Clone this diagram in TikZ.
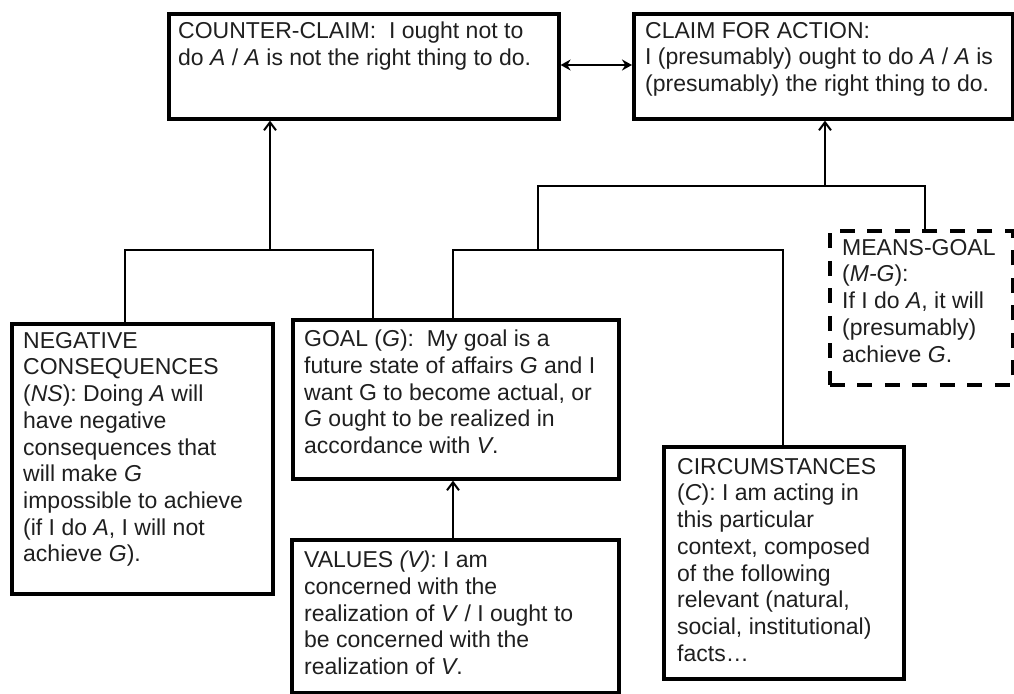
\documentclass[tikz,border=0pt]{standalone}
\usepackage{fontspec}
\setmainfont{Liberation Sans}
\usepackage{tikz}
\usetikzlibrary{arrows.meta}

\newcommand{\argfont}{\fontsize{23}{26.7}\selectfont}

\tikzset{
	argbox/.style={draw, line width=3.6pt, anchor=north west, inner sep=0pt},
	meansbox/.style={argbox, line width=3.6pt, dash pattern=on 15pt off 12.5pt},
	argtext/.style={anchor=north west, inner sep=0pt, align=left, font=\argfont, text=black!88},
	link/.style={line width=2.3pt},
	up/.style={link, -{Straight Barb[length=8pt,width=12pt,line width=2pt]}},
	both/.style={link, {Stealth[length=10pt,width=11pt]}-{Stealth[length=10pt,width=11pt]}}
}

\begin{document}
\begin{tikzpicture}[x=1pt,y=-1pt]
				\useasboundingbox (0,0) rectangle (1014,693);
				%boxes placed by hand, text set top left in each
				\node[argbox, minimum width=390pt, minimum height=105pt] (cc) at (167,12) {};
				\node[argtext] (cctext) at (178,22) {COUNTER-CLAIM:\ \ I ought not to\\do \textit{A} / \textit{A} is not the right thing to do.};

				\node[argbox, minimum width=379pt, minimum height=105pt] (ca) at (632,12) {};
				\node[argtext] (catext) at (645,22) {CLAIM FOR ACTION:\\I (presumably) ought to do \textit{A} / \textit{A} is\\(presumably) the right thing to do.};

				\node[argbox, minimum width=261pt, minimum height=270pt] (nc) at (10,322) {};
				\node[argtext] (nctext) at (23,332) {NEGATIVE\\CONSEQUENCES\\(\textit{NS}): Doing \textit{A} will\\have negative\\consequences that\\will make \textit{G}\\impossible to achieve\\(if I do \textit{A}, I will not\\achieve \textit{G}).};

				\node[argbox, minimum width=326pt, minimum height=159pt] (goal) at (291,318) {};
				\node[argtext] (goaltext) at (304,330) {GOAL (\textit{G}):\ \ My goal is a\\future state of affairs \textit{G} and I\\want G to become actual, or\\\textit{G} ought to be realized in\\accordance with \textit{V}.};

				\node[argbox, minimum width=327pt, minimum height=153pt] (values) at (290,538) {};
				\node[argtext] (valuestext) at (304,551) {VALUES \textit{(V)}: I am\\concerned with the\\realization of \textit{V} / I ought to\\be concerned with the\\realization of \textit{V}.};

				\node[argbox, minimum width=240pt, minimum height=232pt] (circ) at (662,445) {};
				\node[argtext] (circtext) at (677,458) {CIRCUMSTANCES\\(\textit{C}): I am acting in\\this particular\\context, composed\\of the following\\relevant (natural,\\social, institutional)\\facts…};

				\node[meansbox, minimum width=183pt, minimum height=154pt] (mg) at (828,229) {};
				\node[argtext] (mgtext) at (842,239) {MEANS-GOAL\\(\textit{M-G}):\\If I do \textit{A}, it will\\(presumably)\\achieve \textit{G}.};

				%% forks joining the premises
				\coordinate (ccfork) at (270,250);
				\coordinate (cafork) at (825,186);
				\coordinate (gcfork) at (538,250);

				\draw[link] ([xshift=115pt]nc.north west) |- (ccfork) -| ([xshift=82pt]goal.north west);
				\draw[up] (ccfork) -- (cc.south -| ccfork);

				\draw[link] (gcfork) |- (cafork) -| ([xshift=97pt]mg.north west);
				\draw[link] ([xshift=162pt]goal.north west) |- (gcfork) -| ([xshift=121pt]circ.north west);
				\draw[up] (cafork) -- (ca.south -| cafork);

				\draw[up] ([xshift=163pt]values.north west) -- ([xshift=162pt]goal.south west);
				\draw[both] (cc.east |- 0,65) -- (ca.west |- 0,65);
\end{tikzpicture}
\end{document}
